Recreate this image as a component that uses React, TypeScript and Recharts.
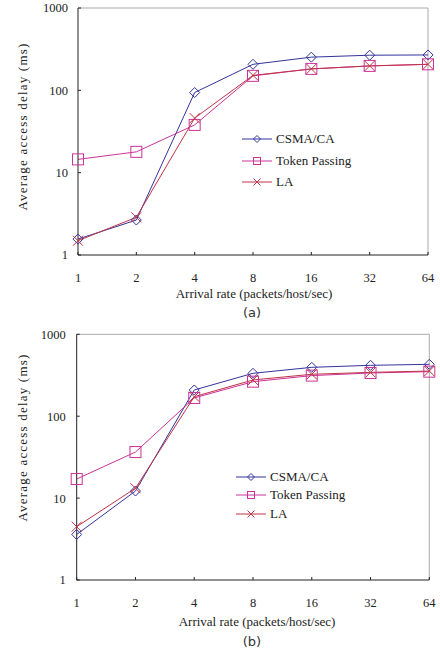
import React from 'react';
import { LineChart, Line, XAxis, YAxis, ReferenceLine, Legend, Label } from 'recharts';

const rates = ['1', '2', '4', '8', '16', '32', '64'];
const csmaA = [1.56, 2.66, 94, 207, 253, 267, 269];
const tokenA = [14.5, 17.9, 38, 150, 182, 198, 207];
const laA = [1.49, 2.87, 46, 152, 182, 198, 207];
const csmaB = [3.6, 12.2, 209, 334, 395, 418, 430];
const tokenB = [17.1, 36.5, 167, 264, 313, 337, 350];
const laB = [4.48, 13.2, 173, 277, 325, 343, 356];
const yTicks = [1, 10, 100, 1000];
const seriesNames = ['CSMA/CA', 'Token Passing', 'LA'];

const BLUE = '#33339c';
const MAGENTA = '#cc3399';
const RED = '#bf3446';
const SERIF = '"Liberation Serif", "Times New Roman", serif';

const makeRows = (c: number[], t: number[], l: number[]) =>
  rates.map((r, i) => ({ idx: i, rate: r, csma: c[i], token: t[i], la: l[i] }));

const Marker = ({ kind, cx, cy, r, color }: any) => {
  if (cx == null || cy == null) return null;
  if (kind === 'diamond')
    return <path d={`M${cx},${cy - r}L${cx + r},${cy}L${cx},${cy + r}L${cx - r},${cy}Z`} fill="none" stroke={color} strokeWidth={1} />;
  if (kind === 'square')
    return <rect x={cx - r} y={cy - r} width={2 * r} height={2 * r} fill="none" stroke={color} strokeWidth={1} />;
  return (
    <path d={`M${cx - r},${cy - r}L${cx + r},${cy + r}M${cx + r},${cy - r}L${cx - r},${cy + r}`} fill="none" stroke={color} strokeWidth={1} />
  );
};

const kinds = ['diamond', 'square', 'cross'];
const colors = [BLUE, MAGENTA, RED];

const LegendBox = ({ rowH }: { rowH: number }) => (
  <div style={{ fontFamily: SERIF, fontSize: 13, color: '#222' }}>
    {seriesNames.map((n, i) => (
      <div key={n} style={{ display: 'flex', alignItems: 'center', height: rowH }}>
        <svg width={32} height={12} style={{ display: 'block' }}>
          <line x1={0} y1={6} x2={30} y2={6} stroke={colors[i]} strokeWidth={1} />
          <Marker kind={kinds[i]} cx={15} cy={6} r={3.5} color={colors[i]} />
        </svg>
        <span style={{ marginLeft: 2, whiteSpace: 'nowrap' }}>{n}</span>
      </div>
    ))}
  </div>
);

const Panel = ({ data, width, height, margin, yMargin, legendPos, rowH, yLabelCy, xLabelX, xLabelY, caption, captionY }: any) => (
  <LineChart width={width} height={height} data={data} margin={margin}>
    <XAxis
      dataKey="idx"
      type="number"
      domain={[0, 6]}
      ticks={[0, 1, 2, 3, 4, 5, 6]}
      interval={0}
      tickFormatter={(v: number) => rates[v]}
      height={30}
      stroke="#222"
      tickSize={-3}
      tickMargin={21}
      tick={{ fill: '#222', fontSize: 12.5, fontFamily: SERIF }}
    >
      <Label
        content={() => (
          <g>
            <text x={xLabelX} y={xLabelY} textAnchor="middle" dominantBaseline="central" fontFamily={SERIF} fontSize={13} fill="#222">
              Arrival rate (packets/host/sec)
            </text>
            <text x={252} y={captionY} textAnchor="middle" dominantBaseline="central" fontFamily='"DejaVu Sans", sans-serif' fontSize={13} fill="#333">
              {caption}
            </text>
          </g>
        )}
      />
    </XAxis>
    <YAxis
      scale="log"
      type="number"
      domain={[1, 1000]}
      ticks={yTicks}
      allowDataOverflow
      width={60}
      stroke="#222"
      tickSize={-3}
      tickMargin={yMargin}
      tick={{ fill: '#222', fontSize: 12.5, fontFamily: SERIF }}
    >
      <Label
        content={() => (
          <text
            x={22}
            y={yLabelCy}
            transform={`rotate(-90 22 ${yLabelCy})`}
            textAnchor="middle"
            dominantBaseline="central"
            fontFamily={SERIF}
            fontSize={13}
            letterSpacing={1.2}
            fill="#222"
          >
            Average access delay (ms)
          </text>
        )}
      />
    </YAxis>
    <ReferenceLine y={1000} stroke="#aaa" strokeWidth={1} />
    <ReferenceLine x={6} stroke="#aaa" strokeWidth={1} />
    <Line
      type="linear"
      dataKey="csma"
      stroke={BLUE}
      strokeWidth={1}
      isAnimationActive={false}
      dot={(p: any) => <Marker key={`d${p.index}`} kind="diamond" cx={p.cx} cy={p.cy} r={5} color={BLUE} />}
      activeDot={false}
    />
    <Line
      type="linear"
      dataKey="token"
      stroke={MAGENTA}
      strokeWidth={1}
      isAnimationActive={false}
      dot={(p: any) => <Marker key={`s${p.index}`} kind="square" cx={p.cx} cy={p.cy} r={5.5} color={MAGENTA} />}
      activeDot={false}
    />
    <Line
      type="linear"
      dataKey="la"
      stroke={RED}
      strokeWidth={1}
      isAnimationActive={false}
      dot={(p: any) => <Marker key={`x${p.index}`} kind="cross" cx={p.cx} cy={p.cy} r={5} color={RED} />}
      activeDot={false}
    />
    <Legend
      layout="vertical"
      align="center"
      verticalAlign="middle"
      wrapperStyle={{ left: legendPos[0], top: legendPos[1], width: 'auto' }}
      content={() => <LegendBox rowH={rowH} />}
    />
  </LineChart>
);

export default function App() {
  const rowsA = makeRows(csmaA, tokenA, laA);
  const rowsB = makeRows(csmaB, tokenB, laB);
  return (
    <div style={{ position: 'absolute', left: 0, top: 0, width: 440, height: 653, background: '#fff' }}>
      <div style={{ position: 'absolute', left: 0, top: 0 }}>
        <Panel
          data={rowsA}
          width={440}
          height={320}
          margin={{ top: 8, right: 12, bottom: 35, left: 18 }}
          yMargin={13}
          legendPos={[242, 128.6]}
          rowH={21.4}
          yLabelCy={126.5}
          xLabelX={254}
          xLabelY={293}
          caption="(a)"
          captionY={312}
        />
      </div>
      <div style={{ position: 'absolute', left: 0, top: 322 }}>
        <Panel
          data={rowsB}
          width={440}
          height={331}
          margin={{ top: 12.3, right: 10.7, bottom: 43, left: 16.7 }}
          yMargin={14}
          legendPos={[236, 145.3]}
          rowH={18.8}
          yLabelCy={115.5}
          xLabelX={257}
          xLabelY={299.7}
          caption="(b)"
          captionY={319.7}
        />
      </div>
    </div>
  );
}
